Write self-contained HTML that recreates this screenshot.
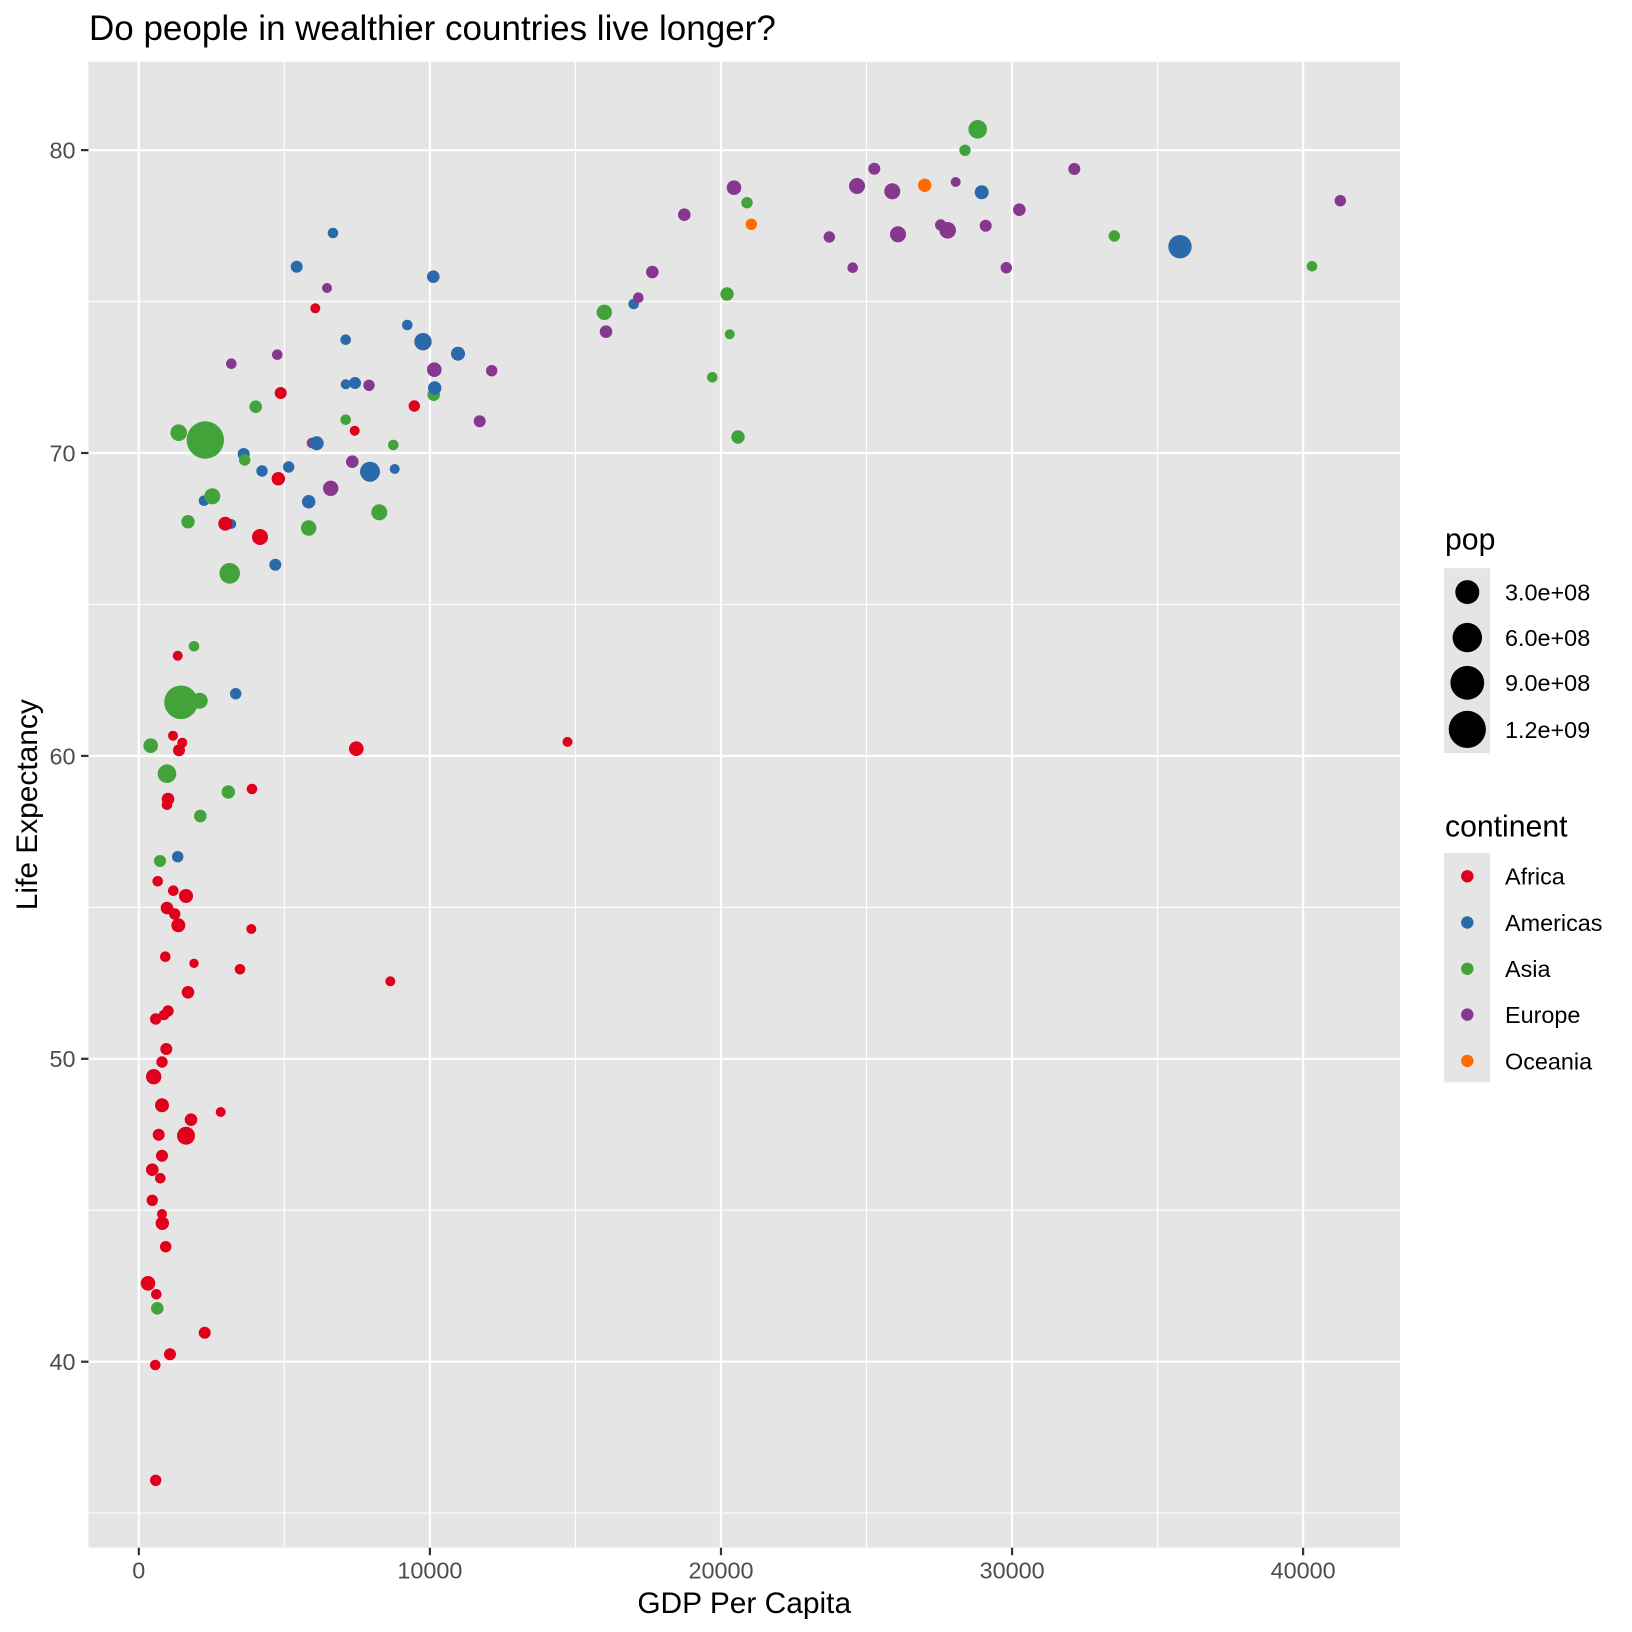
<!DOCTYPE html>
<html>
<head>
<meta charset="utf-8">
<style>
  html, body { margin: 0; padding: 0; background: #ffffff; }
  svg { display: block; }
  text { font-family: "Liberation Sans", Arial, sans-serif; }
</style>
</head>
<body>
<svg xmlns="http://www.w3.org/2000/svg" width="1632" height="1632" viewBox="0 0 1632 1632">
  <rect x="0" y="0" width="1632" height="1632" fill="#ffffff"/>

  <!-- Title -->
  <text x="89" y="40" font-size="35" fill="#000000">Do people in wealthier countries live longer?</text>

  <!-- Panel -->
  <rect x="88.5" y="61.7" width="1311.5" height="1486" fill="#E5E5E5"/>

  <!-- Minor gridlines -->
  <g stroke="#ffffff" stroke-width="1.1">
    <line x1="284.3" y1="61.7" x2="284.3" y2="1547.7"/>
    <line x1="575.4" y1="61.7" x2="575.4" y2="1547.7"/>
    <line x1="866.5" y1="61.7" x2="866.5" y2="1547.7"/>
    <line x1="1157.6" y1="61.7" x2="1157.6" y2="1547.7"/>
    <line x1="88.5" y1="301.6" x2="1400" y2="301.6"/>
    <line x1="88.5" y1="604.5" x2="1400" y2="604.5"/>
    <line x1="88.5" y1="907.3" x2="1400" y2="907.3"/>
    <line x1="88.5" y1="1210.2" x2="1400" y2="1210.2"/>
    <line x1="88.5" y1="1513.0" x2="1400" y2="1513.0"/>
  </g>
  <!-- Major gridlines -->
  <g stroke="#ffffff" stroke-width="2.2">
    <line x1="138.8" y1="61.7" x2="138.8" y2="1547.7"/>
    <line x1="429.9" y1="61.7" x2="429.9" y2="1547.7"/>
    <line x1="721.0" y1="61.7" x2="721.0" y2="1547.7"/>
    <line x1="1012.1" y1="61.7" x2="1012.1" y2="1547.7"/>
    <line x1="1303.1" y1="61.7" x2="1303.1" y2="1547.7"/>
    <line x1="88.5" y1="150.1" x2="1400" y2="150.1"/>
    <line x1="88.5" y1="453.0" x2="1400" y2="453.0"/>
    <line x1="88.5" y1="755.9" x2="1400" y2="755.9"/>
    <line x1="88.5" y1="1058.8" x2="1400" y2="1058.8"/>
    <line x1="88.5" y1="1361.7" x2="1400" y2="1361.7"/>
  </g>

  <!-- Points -->
  <g>
    <circle cx="333.0" cy="233.0" r="5.3" fill="#2A69AA"/>
    <circle cx="296.7" cy="266.7" r="6" fill="#2A69AA"/>
    <circle cx="433.3" cy="276.7" r="6.3" fill="#2A69AA"/>
    <circle cx="327.0" cy="288.0" r="5" fill="#86388F"/>
    <circle cx="315.3" cy="308.3" r="5" fill="#E0001B"/>
    <circle cx="407.3" cy="325.0" r="5.3" fill="#2A69AA"/>
    <circle cx="345.7" cy="339.7" r="5.3" fill="#2A69AA"/>
    <circle cx="423.0" cy="341.7" r="8.7" fill="#2A69AA"/>
    <circle cx="458.0" cy="353.7" r="7" fill="#2A69AA"/>
    <circle cx="231.3" cy="363.7" r="5.3" fill="#86388F"/>
    <circle cx="277.3" cy="354.7" r="5.3" fill="#86388F"/>
    <circle cx="434.3" cy="369.7" r="7.3" fill="#86388F"/>
    <circle cx="491.7" cy="370.7" r="5.7" fill="#86388F"/>
    <circle cx="345.7" cy="384.3" r="5" fill="#2A69AA"/>
    <circle cx="355.0" cy="383.0" r="6" fill="#2A69AA"/>
    <circle cx="369.0" cy="385.3" r="5.7" fill="#86388F"/>
    <circle cx="433.7" cy="394.7" r="6.3" fill="#42A33B"/>
    <circle cx="434.7" cy="388.0" r="6.7" fill="#2A69AA"/>
    <circle cx="280.7" cy="393.0" r="6" fill="#E0001B"/>
    <circle cx="255.7" cy="406.7" r="6.3" fill="#42A33B"/>
    <circle cx="414.3" cy="406.0" r="5.7" fill="#E0001B"/>
    <circle cx="479.7" cy="421.3" r="6" fill="#86388F"/>
    <circle cx="345.7" cy="419.7" r="5.3" fill="#42A33B"/>
    <circle cx="354.7" cy="430.7" r="5" fill="#E0001B"/>
    <circle cx="178.7" cy="432.7" r="8.3" fill="#42A33B"/>
    <circle cx="205.3" cy="440.0" r="18.7" fill="#42A33B"/>
    <circle cx="312.0" cy="443.0" r="5.3" fill="#86388F"/>
    <circle cx="316.7" cy="443.3" r="7" fill="#2A69AA"/>
    <circle cx="393.3" cy="445.0" r="5.3" fill="#42A33B"/>
    <circle cx="243.7" cy="454.0" r="6" fill="#2A69AA"/>
    <circle cx="244.7" cy="460.0" r="5.7" fill="#42A33B"/>
    <circle cx="262.0" cy="471.0" r="5.7" fill="#2A69AA"/>
    <circle cx="288.7" cy="467.0" r="5.7" fill="#2A69AA"/>
    <circle cx="278.3" cy="478.7" r="6.7" fill="#E0001B"/>
    <circle cx="352.3" cy="461.7" r="6.3" fill="#86388F"/>
    <circle cx="370.0" cy="471.7" r="10" fill="#2A69AA"/>
    <circle cx="394.7" cy="469.0" r="5" fill="#2A69AA"/>
    <circle cx="330.7" cy="488.3" r="7.7" fill="#86388F"/>
    <circle cx="204.0" cy="500.7" r="5.3" fill="#2A69AA"/>
    <circle cx="212.3" cy="496.3" r="8" fill="#42A33B"/>
    <circle cx="308.7" cy="501.7" r="6.7" fill="#2A69AA"/>
    <circle cx="379.3" cy="512.3" r="8" fill="#42A33B"/>
    <circle cx="188.0" cy="521.7" r="6.7" fill="#42A33B"/>
    <circle cx="231.3" cy="524.0" r="5" fill="#2A69AA"/>
    <circle cx="225.3" cy="523.7" r="7" fill="#E0001B"/>
    <circle cx="260.0" cy="537.0" r="8" fill="#E0001B"/>
    <circle cx="308.7" cy="528.0" r="7.7" fill="#42A33B"/>
    <circle cx="275.3" cy="564.7" r="6" fill="#2A69AA"/>
    <circle cx="229.7" cy="573.3" r="10.3" fill="#42A33B"/>

    <circle cx="194.0" cy="646.3" r="5.3" fill="#42A33B"/>
    <circle cx="177.7" cy="655.7" r="5" fill="#E0001B"/>
    <circle cx="181.0" cy="702.3" r="16.8" fill="#42A33B"/>
    <circle cx="199.7" cy="700.7" r="8" fill="#42A33B"/>
    <circle cx="235.7" cy="693.7" r="5.7" fill="#2A69AA"/>
    <circle cx="173.0" cy="735.7" r="5" fill="#E0001B"/>
    <circle cx="182.3" cy="742.7" r="5" fill="#E0001B"/>
    <circle cx="179.0" cy="750.3" r="6" fill="#E0001B"/>
    <circle cx="150.7" cy="745.7" r="7.3" fill="#42A33B"/>
    <circle cx="356.3" cy="748.7" r="7.3" fill="#E0001B"/>
    <circle cx="567.5" cy="741.9" r="5" fill="#E0001B"/>
    <circle cx="167.0" cy="773.7" r="9.3" fill="#42A33B"/>
    <circle cx="228.3" cy="792.0" r="6.7" fill="#42A33B"/>
    <circle cx="252.0" cy="789.0" r="5.3" fill="#E0001B"/>
    <circle cx="168.0" cy="799.0" r="6.3" fill="#E0001B"/>
    <circle cx="167.0" cy="804.7" r="5.3" fill="#E0001B"/>
    <circle cx="200.3" cy="816.0" r="6.3" fill="#42A33B"/>
    <circle cx="160.0" cy="861.0" r="6" fill="#42A33B"/>
    <circle cx="177.7" cy="856.7" r="5.7" fill="#2A69AA"/>
    <circle cx="157.7" cy="881.3" r="5.3" fill="#E0001B"/>
    <circle cx="173.3" cy="890.7" r="5.3" fill="#E0001B"/>
    <circle cx="186.0" cy="896.0" r="7" fill="#E0001B"/>
    <circle cx="167.0" cy="908.0" r="6.3" fill="#E0001B"/>
    <circle cx="174.7" cy="914.0" r="5.7" fill="#E0001B"/>
    <circle cx="178.3" cy="925.3" r="7" fill="#E0001B"/>
    <circle cx="251.3" cy="929.0" r="5" fill="#E0001B"/>

    <circle cx="165.3" cy="956.7" r="5.3" fill="#E0001B"/>
    <circle cx="194.0" cy="963.3" r="4.7" fill="#E0001B"/>
    <circle cx="240.0" cy="969.3" r="5.3" fill="#E0001B"/>
    <circle cx="390.3" cy="981.3" r="5" fill="#E0001B"/>
    <circle cx="188.0" cy="992.3" r="6.3" fill="#E0001B"/>
    <circle cx="168.0" cy="1011.0" r="5.7" fill="#E0001B"/>
    <circle cx="164.0" cy="1015.0" r="5.3" fill="#E0001B"/>
    <circle cx="155.7" cy="1019.0" r="5.7" fill="#E0001B"/>
    <circle cx="166.3" cy="1049.0" r="6" fill="#E0001B"/>
    <circle cx="162.0" cy="1062.0" r="5.7" fill="#E0001B"/>
    <circle cx="153.7" cy="1076.7" r="7.7" fill="#E0001B"/>
    <circle cx="162.0" cy="1105.3" r="7" fill="#E0001B"/>
    <circle cx="220.7" cy="1112.0" r="5" fill="#E0001B"/>
    <circle cx="191.0" cy="1119.7" r="6.3" fill="#E0001B"/>
    <circle cx="158.7" cy="1134.7" r="6" fill="#E0001B"/>
    <circle cx="186.0" cy="1135.7" r="9" fill="#E0001B"/>
    <circle cx="162.0" cy="1155.7" r="6" fill="#E0001B"/>
    <circle cx="152.3" cy="1169.7" r="6.3" fill="#E0001B"/>
    <circle cx="160.3" cy="1178.3" r="5.3" fill="#E0001B"/>
    <circle cx="152.3" cy="1200.3" r="5.7" fill="#E0001B"/>
    <circle cx="162.0" cy="1214.0" r="5" fill="#E0001B"/>
    <circle cx="162.3" cy="1223.3" r="6.7" fill="#E0001B"/>
    <circle cx="165.7" cy="1246.7" r="5.7" fill="#E0001B"/>
    <circle cx="148.0" cy="1283.3" r="7.3" fill="#E0001B"/>
    <circle cx="156.3" cy="1294.3" r="5.3" fill="#E0001B"/>
    <circle cx="157.3" cy="1308.3" r="6.3" fill="#42A33B"/>
    <circle cx="204.7" cy="1332.7" r="6" fill="#E0001B"/>
    <circle cx="170.0" cy="1354.3" r="6" fill="#E0001B"/>
    <circle cx="155.3" cy="1365.0" r="5.3" fill="#E0001B"/>
    <circle cx="155.7" cy="1480.3" r="5.7" fill="#E0001B"/>

    <circle cx="977.7" cy="129.3" r="9.3" fill="#42A33B"/>
    <circle cx="965.0" cy="150.3" r="5.7" fill="#42A33B"/>
    <circle cx="874.3" cy="168.7" r="6" fill="#86388F"/>
    <circle cx="734.0" cy="187.7" r="7.3" fill="#86388F"/>
    <circle cx="857.0" cy="186.0" r="8" fill="#86388F"/>
    <circle cx="892.3" cy="191.3" r="8" fill="#86388F"/>
    <circle cx="924.7" cy="185.3" r="6.7" fill="#FF6B00"/>
    <circle cx="955.7" cy="182.0" r="5" fill="#86388F"/>
    <circle cx="981.7" cy="192.3" r="7" fill="#2A69AA"/>
    <circle cx="747.0" cy="202.7" r="5.7" fill="#42A33B"/>
    <circle cx="751.3" cy="224.3" r="5.7" fill="#FF6B00"/>
    <circle cx="684.3" cy="214.7" r="6.3" fill="#86388F"/>
    <circle cx="829.3" cy="237.0" r="5.7" fill="#86388F"/>
    <circle cx="940.7" cy="225.0" r="5.7" fill="#86388F"/>
    <circle cx="947.7" cy="230.3" r="8.3" fill="#86388F"/>
    <circle cx="898.0" cy="234.3" r="8" fill="#86388F"/>
    <circle cx="985.7" cy="225.7" r="6" fill="#86388F"/>
    <circle cx="852.7" cy="267.7" r="5.3" fill="#86388F"/>
    <circle cx="652.3" cy="272.0" r="6.3" fill="#86388F"/>
    <circle cx="633.7" cy="304.0" r="5.3" fill="#2A69AA"/>
    <circle cx="638.3" cy="297.7" r="5.3" fill="#86388F"/>
    <circle cx="727.0" cy="294.0" r="6.7" fill="#42A33B"/>
    <circle cx="604.3" cy="312.3" r="7.7" fill="#42A33B"/>
    <circle cx="606.0" cy="331.7" r="6.3" fill="#86388F"/>
    <circle cx="729.7" cy="334.3" r="5" fill="#42A33B"/>
    <circle cx="712.3" cy="377.3" r="5.3" fill="#42A33B"/>
    <circle cx="738.0" cy="437.0" r="6.7" fill="#42A33B"/>
    <circle cx="1074.3" cy="169.0" r="6" fill="#86388F"/>
    <circle cx="1019.3" cy="209.7" r="6.3" fill="#86388F"/>
    <circle cx="1114.3" cy="236.0" r="5.7" fill="#42A33B"/>
    <circle cx="1180.0" cy="246.7" r="11.7" fill="#2A69AA"/>
    <circle cx="1006.3" cy="267.7" r="5.7" fill="#86388F"/>
    <circle cx="1340.3" cy="200.7" r="5.7" fill="#86388F"/>
    <circle cx="1312.0" cy="266.3" r="5.3" fill="#42A33B"/>
  </g>

  <!-- Axis ticks -->
  <g stroke="#333333" stroke-width="2.2">
    <line x1="81" y1="150.1" x2="88.5" y2="150.1"/>
    <line x1="81" y1="453.0" x2="88.5" y2="453.0"/>
    <line x1="81" y1="755.9" x2="88.5" y2="755.9"/>
    <line x1="81" y1="1058.8" x2="88.5" y2="1058.8"/>
    <line x1="81" y1="1361.7" x2="88.5" y2="1361.7"/>
    <line x1="138.8" y1="1547.7" x2="138.8" y2="1555.2"/>
    <line x1="429.9" y1="1547.7" x2="429.9" y2="1555.2"/>
    <line x1="721.0" y1="1547.7" x2="721.0" y2="1555.2"/>
    <line x1="1012.1" y1="1547.7" x2="1012.1" y2="1555.2"/>
    <line x1="1303.1" y1="1547.7" x2="1303.1" y2="1555.2"/>
  </g>

  <!-- Y tick labels -->
  <g font-size="23.4" fill="#4D4D4D" text-anchor="end">
    <text x="75.5" y="158.5">80</text>
    <text x="75.5" y="461.4">70</text>
    <text x="75.5" y="764.3">60</text>
    <text x="75.5" y="1067.2">50</text>
    <text x="75.5" y="1370.1">40</text>
  </g>
  <!-- X tick labels -->
  <g font-size="23.4" fill="#4D4D4D" text-anchor="middle">
    <text x="138.8" y="1578.5">0</text>
    <text x="429.9" y="1578.5">10000</text>
    <text x="721.0" y="1578.5">20000</text>
    <text x="1012.1" y="1578.5">30000</text>
    <text x="1303.1" y="1578.5">40000</text>
  </g>

  <!-- Axis titles -->
  <text x="744.2" y="1613" font-size="29.9" fill="#000000" text-anchor="middle">GDP Per Capita</text>
  <text transform="translate(37,804.7) rotate(-90)" x="0" y="0" font-size="29.9" fill="#000000" text-anchor="middle">Life Expectancy</text>

  <!-- Legend: pop -->
  <text x="1445" y="549.5" font-size="30.2" fill="#000000">pop</text>
  <rect x="1444" y="568.1" width="46" height="185" fill="#E5E5E5"/>
  <circle cx="1467.3" cy="592.1" r="12" fill="#000000"/>
  <circle cx="1467.3" cy="637.6" r="14.7" fill="#000000"/>
  <circle cx="1467.3" cy="682.8" r="16.9" fill="#000000"/>
  <circle cx="1467.3" cy="729.4" r="18.6" fill="#000000"/>
  <g font-size="23.4" fill="#000000">
    <text x="1505" y="600.5">3.0e+08</text>
    <text x="1505" y="646.0">6.0e+08</text>
    <text x="1505" y="691.2">9.0e+08</text>
    <text x="1505" y="737.8">1.2e+09</text>
  </g>

  <!-- Legend: continent -->
  <text x="1445" y="836.3" font-size="30.2" fill="#000000">continent</text>
  <rect x="1444" y="853" width="46" height="229.3" fill="#E5E5E5"/>
  <circle cx="1467.3" cy="876.3" r="6.2" fill="#E0001B"/>
  <circle cx="1467.3" cy="922.5" r="6.2" fill="#2A69AA"/>
  <circle cx="1467.3" cy="968.8" r="6.2" fill="#42A33B"/>
  <circle cx="1467.3" cy="1014.6" r="6.2" fill="#86388F"/>
  <circle cx="1467.3" cy="1060.9" r="6.2" fill="#FF6B00"/>
  <g font-size="23.4" fill="#000000">
    <text x="1505" y="884.7">Africa</text>
    <text x="1505" y="930.9">Americas</text>
    <text x="1505" y="977.2">Asia</text>
    <text x="1505" y="1023.0">Europe</text>
    <text x="1505" y="1069.3">Oceania</text>
  </g>
</svg>
</body>
</html>
